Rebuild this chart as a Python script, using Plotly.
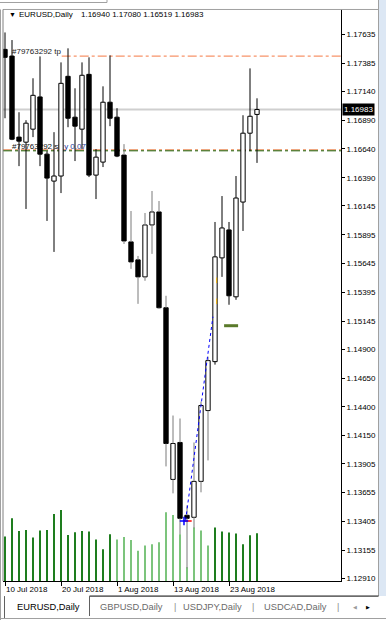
import plotly.graph_objects as go

# ---------------- data ----------------
DAYS = ["10 Jul", "11 Jul", "12 Jul", "13 Jul", "16 Jul", "17 Jul", "18 Jul", "19 Jul", "20 Jul",
        "23 Jul", "24 Jul", "25 Jul", "26 Jul", "27 Jul", "30 Jul", "31 Jul", "1 Aug", "2 Aug",
        "3 Aug", "6 Aug", "7 Aug", "8 Aug", "9 Aug", "10 Aug", "13 Aug", "14 Aug", "15 Aug",
        "16 Aug", "17 Aug", "20 Aug", "21 Aug", "22 Aug", "23 Aug", "24 Aug", "27 Aug", "28 Aug",
        "29 Aug"]
OPEN = [1.17505, 1.17447, 1.16743, 1.16699, 1.16812, 1.17092, 1.16595, 1.16361, 1.16405, 1.17271,
        1.16916, 1.16812, 1.17288, 1.16413, 1.16526, 1.17046, 1.16916, 1.16587, 1.15833, 1.15677,
        1.15529, 1.15980, 1.16093, 1.15261, 1.13770, 1.14091, 1.13458, 1.13441, 1.13753, 1.14368,
        1.14793, 1.15694, 1.15937, 1.15356, 1.16179, 1.16777, 1.16940]
HIGH = [1.17652, 1.17586, 1.16959, 1.16890, 1.17254, 1.17444, 1.16621, 1.16786, 1.17392, 1.17514,
        1.17167, 1.17392, 1.17436, 1.16639, 1.17184, 1.17453, 1.16994, 1.16682, 1.16101, 1.15711,
        1.16084, 1.16275, 1.16188, 1.15365, 1.14325, 1.14299, 1.13545, 1.14091, 1.14446, 1.14836,
        1.16006, 1.16231, 1.16006, 1.16405, 1.16933, 1.17340, 1.17080]
LOW = [1.16907, 1.16717, 1.16491, 1.16119, 1.16743, 1.16491, 1.16015, 1.15746, 1.16257, 1.16829,
       1.16535, 1.16639, 1.16396, 1.16205, 1.16483, 1.16838, 1.16569, 1.15815, 1.15599, 1.15295,
       1.15495, 1.15729, 1.15252, 1.13883, 1.13649, 1.13294, 1.12999, 1.13346, 1.13658, 1.13935,
       1.14767, 1.15529, 1.15287, 1.15330, 1.15928, 1.16621, 1.16519]
CLOSE = [1.17436, 1.16725, 1.16708, 1.16864, 1.17106, 1.16595, 1.16387, 1.16405, 1.17210, 1.16907,
         1.16838, 1.17280, 1.16413, 1.16569, 1.17046, 1.16907, 1.16578, 1.15841, 1.15659, 1.15529,
         1.15980, 1.16093, 1.15261, 1.14082, 1.14082, 1.13432, 1.13432, 1.13753, 1.14412, 1.14802,
         1.15703, 1.15954, 1.15365, 1.16214, 1.16777, 1.16924, 1.16983]
VOLUME = [44700, 63000, 50300, 51300, 43700, 50700, 51300, 67300, 71300, 46300,
          49000, 50300, 49700, 41700, 32000, 47000, 41700, 44300, 41300, 30500,
          35700, 37000, 39000, 69000, 66300, 47000, 14000, 53700, 50700, 35700,
          53700, 49700, 48700, 47700, 37000, 46000, 48000]

DATE_TICK_IDX = [0, 8, 16, 24, 32]
DATE_TICK_TEXT = ["10 Jul 2018", "20 Jul 2018", "1 Aug 2018", "13 Aug 2018", "23 Aug 2018"]
PRICE_TICKS = ["1.17635", "1.17385", "1.17140", "1.16890", "1.16640", "1.16390", "1.16145",
               "1.15895", "1.15645", "1.15395", "1.15145", "1.14900", "1.14650", "1.14400",
               "1.14150", "1.13905", "1.13655", "1.13405", "1.13155", "1.12910"]

SYMBOL = "EURUSD,Daily"
ORDER = "#79763292"
TP_PRICE = 1.17447
SL_PRICE = 1.16624
TRADE_X = [25.8, 29.7]
TRADE_Y = [1.13415, 1.15183]
ENTRY_X, ENTRY_Y = 25.57, 1.13409
EXIT_MARK_X, EXIT_MARK_Y = 32.3, 1.15105
SMALL_MARK_X = [30.24, 30.24]
SMALL_MARK_Y = [1.15499, 1.15317]
TABS = ["EURUSD,Daily", "GBPUSD,Daily", "USDJPY,Daily", "USDCAD,Daily"]

# ---------------- styling / layout helpers ----------------
W, H = 386, 625
FONT = "Liberation Sans, Arial, sans-serif"
def px(x): return x / W
def py(y): return 1 - y / H

X_RANGE = [-0.2857, 48]
PRICE_RANGE = [1.128866, 1.178516]
VOL_RANGE = [0, 573000]
GREY_WICK = set(range(17, 30))
LIGHT_VOL = set(range(16, 30))

idx = list(range(len(DAYS)))

fig = go.Figure()

# volume (base layer)
fig.add_trace(go.Bar(
    x=idx, y=VOLUME, yaxis="y", width=0.28,
    marker=dict(color=["#7CC47C" if i in LIGHT_VOL else "#1E7D1E" for i in idx], line=dict(width=0)),
    hoverinfo="skip", showlegend=False))

# order labels (beneath candles)
fig.add_trace(go.Scatter(
    x=[1.0, 1.0, 8.45], y=[TP_PRICE, SL_PRICE, SL_PRICE], yaxis="y2", mode="text",
    text=[ORDER + " tp", ORDER + " sl", "y 0.07"], textposition="top right",
    textfont=dict(family=FONT, size=8, color=["#222222", "#111111", "#1F3C9A"]),
    hoverinfo="skip", showlegend=False))

# candle bodies
fig.add_trace(go.Bar(
    x=idx, y=[abs(c - o) for o, c in zip(OPEN, CLOSE)],
    base=[min(o, c) for o, c in zip(OPEN, CLOSE)], yaxis="y3", width=0.62,
    marker=dict(color=["#FFFFFF" if c >= o else "#000000" for o, c in zip(OPEN, CLOSE)],
                line=dict(color="#000000", width=1)),
    hoverinfo="skip", showlegend=False))

# wicks
def wick_xy(sel):
    xs, ys = [], []
    for i in idx:
        if sel(i):
            top, bot = max(OPEN[i], CLOSE[i]), min(OPEN[i], CLOSE[i])
            xs += [i, i, None, i, i, None]
            ys += [top, HIGH[i], None, bot, LOW[i], None]
    return xs, ys

for sel, col in [(lambda i: i not in GREY_WICK, "#000000"), (lambda i: i in GREY_WICK, "#7A7A7A")]:
    wx, wy = wick_xy(sel)
    fig.add_trace(go.Scatter(x=wx, y=wy, yaxis="y3", mode="lines",
                             line=dict(color=col, width=1), hoverinfo="skip", showlegend=False))

# trade history
fig.add_trace(go.Scatter(x=TRADE_X, y=TRADE_Y, yaxis="y3", mode="lines",
                         line=dict(color="#0000FF", width=1, dash="dot"),
                         hoverinfo="skip", showlegend=False))
fig.add_trace(go.Scatter(x=[ENTRY_X + 0.5], y=[ENTRY_Y], yaxis="y3", mode="markers",
                         marker=dict(symbol="line-ew", size=6, line=dict(color="#FF0000", width=1.5)),
                         hoverinfo="skip", showlegend=False))
fig.add_trace(go.Scatter(x=[ENTRY_X], y=[ENTRY_Y], yaxis="y3", mode="markers",
                         marker=dict(symbol="cross-thin", size=6, line=dict(color="#0000FF", width=1.5)),
                         hoverinfo="skip", showlegend=False))
fig.add_trace(go.Scatter(x=[EXIT_MARK_X], y=[EXIT_MARK_Y], yaxis="y3", mode="markers",
                         marker=dict(symbol="line-ew", size=10, line=dict(color="#5A7A2A", width=3)),
                         hoverinfo="skip", showlegend=False))
fig.add_trace(go.Scatter(x=SMALL_MARK_X, y=SMALL_MARK_Y, yaxis="y3", mode="markers",
                         marker=dict(symbol="line-ns", size=4, line=dict(color="#F0B000", width=1)),
                         hoverinfo="skip", showlegend=False))

shapes = []
# price lines
shapes.append(dict(type="line", xref="x", yref="y3", x0=8.1, x1=X_RANGE[1], y0=TP_PRICE, y1=TP_PRICE,
                   line=dict(color="#F7946A", width=1.3, dash="dashdot"), layer="below"))
shapes.append(dict(type="line", xref="paper", yref="y3", x0=px(3), x1=px(341), y0=CLOSE[-1], y1=CLOSE[-1],
                   line=dict(color="#CFCFCF", width=2), layer="below"))
shapes.append(dict(type="line", xref="paper", yref="y3", ysizemode="pixel", yanchor=SL_PRICE,
                   x0=px(3), x1=px(341), y0=1, y1=1,
                   line=dict(color="#E8804A", width=1, dash="dashdot"), layer="below"))
shapes.append(dict(type="line", xref="paper", yref="y3", ysizemode="pixel", yanchor=SL_PRICE,
                   x0=px(3), x1=px(341), y0=0, y1=0,
                   line=dict(color="#1C5C00", width=1, dash="dashdot"), layer="below"))

def pline(x0, y0, x1, y1, color, width=1):
    shapes.append(dict(type="line", xref="paper", yref="paper", x0=px(x0), x1=px(x1), y0=py(y0), y1=py(y1),
                       line=dict(color=color, width=width), layer="above"))

# window frame
shapes.append(dict(type="rect", xref="paper", yref="paper", x0=px(379), x1=1, y0=py(598), y1=1,
                   fillcolor="#DCE7F4", line=dict(width=0), layer="above"))
pline(378.5, 0, 378.5, 598, "#A0A0A0")
pline(0, 2.5, 107, 2.5, "#A0A0A0")
pline(107, 0, 107, 2.5, "#A0A0A0")
pline(3, 9.5, 378.5, 9.5, "#A0A0A0")
pline(0.5, 9.5, 0.5, 622, "#A0A0A0")
pline(3, 9.5, 3, 583, "#808080")
# tab bar
pline(89.5, 598, 378.5, 598, "#000000")
pline(4.5, 598, 4.5, 620, "#606060")
pline(89.5, 598, 89.5, 618, "#606060")
pline(0, 620.5, 386, 620.5, "#A0A0A0")

annotations = []
def note(x, y, text, size=8, color="#000000", anchor="left", **kw):
    annotations.append(dict(xref="paper", yref="paper", x=px(x), y=py(y), text=text, showarrow=False,
                            xanchor=anchor, yanchor="middle", font=dict(family=FONT, size=size, color=color), **kw))

note(7, 14.5, "▼", size=7)
note(17, 15, SYMBOL, size=8)
note(79, 15, " ".join(f"{v:.5f}" for v in (OPEN[-1], HIGH[-1], LOW[-1], CLOSE[-1])), size=8)
# current price box
annotations.append(dict(xref="paper", yref="y3", x=px(342), y=CLOSE[-1], text=f"{CLOSE[-1]:.5f}",
                        showarrow=False, xanchor="left", yanchor="middle", bgcolor="#000000",
                        borderpad=1, font=dict(family=FONT, size=8, color="#FFFFFF")))
# tabs
tab_x = [48, 131, 213, 295]
for t, x in zip(TABS, tab_x):
    note(x, 609, t, size=9.3, color="#000000" if t == SYMBOL else "#6A6A6A", anchor="center")
for x in [175, 253, 338]:
    note(x, 609, "|", size=9, color="#8A8A8A", anchor="center")
note(355, 609, "◀", size=5, color="#9A9A9A", anchor="center")
note(368, 609, "▶", size=5, color="#000000", anchor="center")

fig.update_layout(
    width=W, height=H, margin=dict(l=0, r=0, t=0, b=0),
    paper_bgcolor="#FFFFFF", plot_bgcolor="#FFFFFF", barmode="overlay",
    showlegend=False, shapes=shapes, annotations=annotations,
    xaxis=dict(domain=[px(3), px(341)], range=X_RANGE, showgrid=False, zeroline=False,
               showline=True, linecolor="#000000", linewidth=1,
               ticks="outside", ticklen=4, tickcolor="#000000", tickwidth=1,
               tickvals=DATE_TICK_IDX, ticktext=DATE_TICK_TEXT, ticklabelposition="outside right",
               tickfont=dict(family=FONT, size=8, color="#000000")),
    yaxis=dict(domain=[py(583), py(9.5)], range=VOL_RANGE, showgrid=False, zeroline=False,
               showticklabels=False, showline=False, ticks=""),
    yaxis2=dict(overlaying="y", anchor="x", range=PRICE_RANGE, showgrid=False, zeroline=False,
                showticklabels=False, showline=False, ticks=""),
    yaxis3=dict(overlaying="y", anchor="x", side="right", range=PRICE_RANGE, showgrid=False,
                zeroline=False, showline=True, linecolor="#000000", linewidth=1,
                ticks="outside", ticklen=3, tickcolor="#000000",
                tickvals=[float(s) for s in PRICE_TICKS], ticktext=PRICE_TICKS,
                tickfont=dict(family=FONT, size=8, color="#000000")),
)

fig.write_html("out.html")
